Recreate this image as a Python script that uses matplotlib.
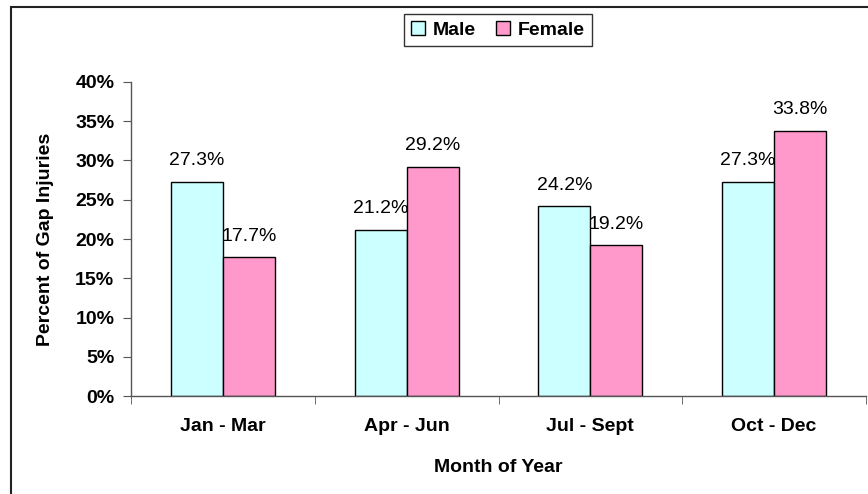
import numpy as np
import matplotlib
matplotlib.use("Agg")
import matplotlib.pyplot as plt
from matplotlib.patches import Rectangle

# data
months = ['Jan - Mar', 'Apr - Jun', 'Jul - Sept', 'Oct - Dec']
male = [27.3, 21.2, 24.2, 27.3]
female = [17.7, 29.2, 19.2, 33.8]
yticks = [0, 5, 10, 15, 20, 25, 30, 35, 40]

plt.rcParams['font.family'] = ['Liberation Sans', 'DejaVu Sans']
fs = 14

fig = plt.figure(figsize=(8.68, 4.94), dpi=100)
ax = fig.add_axes([131/868, 1-396/494, (866-131)/868, (396-82)/494])

x = np.arange(len(months))
w = 0.283
b1 = ax.bar(x - w/2, male, w, color='#CCFFFF', edgecolor='black', linewidth=1, label='Male')
b2 = ax.bar(x + w/2, female, w, color='#FF99CC', edgecolor='black', linewidth=1, label='Female')

# value labels above bars
for bars, vals in [(b1, male), (b2, female)]:
    for rect, v in zip(bars, vals):
        ax.annotate('%.1f%%' % v, (rect.get_x() + rect.get_width()/2, v),
                    xytext=(0, 9), textcoords='offset points',
                    ha='center', va='bottom', fontsize=fs)

ax.set_xlim(-0.5, len(months) - 0.5)
ax.set_ylim(0, 40)
ax.set_yticks(yticks)
ax.set_yticklabels(['%d%%' % t for t in yticks], fontsize=fs, fontweight='bold')
ax.set_xticks(x)
ax.set_xticklabels(months, fontsize=fs, fontweight='bold')
ax.set_xticks(np.arange(len(months) + 1) - 0.5, minor=True)
ax.tick_params(axis='x', which='major', length=0, pad=16)
ax.tick_params(axis='x', which='minor', length=6, color='#555555', direction='out')
ax.tick_params(axis='y', length=6, color='#555555', direction='out', pad=6)

for s in ['top', 'right']:
    ax.spines[s].set_visible(False)
for s in ['left', 'bottom']:
    ax.spines[s].set_color('#555555')
    ax.spines[s].set_linewidth(1)

ax.set_xlabel('Month of Year', fontsize=fs, fontweight='bold', labelpad=17)
ax.set_ylabel('Percent of Gap Injuries', fontsize=fs, fontweight='bold', labelpad=15)

leg = fig.legend(loc='center', bbox_to_anchor=(498/868, 1-30/494), ncol=2,
                 prop={'size': fs, 'weight': 'bold'}, frameon=True, fancybox=False,
                 handlelength=0.75, handleheight=0.75, handletextpad=0.4,
                 columnspacing=1.0, borderpad=0.35, borderaxespad=0)
leg.get_frame().set_edgecolor('black')
leg.get_frame().set_linewidth(1)

# outer chart border (right and bottom edges fall outside the image)
fig.add_artist(Rectangle((11/868, -1), 2, 1 + 1 - 7/494, transform=fig.transFigure,
                         fill=False, edgecolor='#222222', linewidth=1.5))

fig.savefig('out.png', dpi=100)
